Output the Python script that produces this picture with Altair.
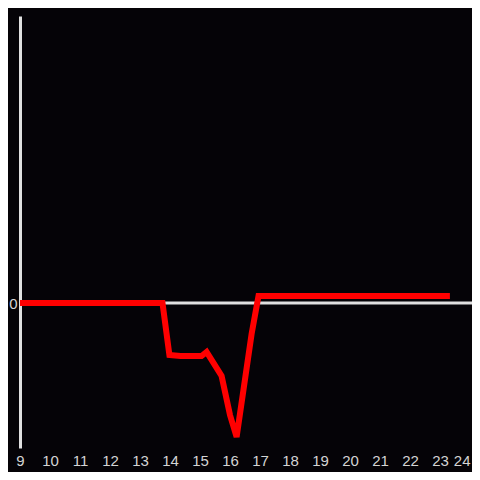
import altair as alt
import pandas as pd

hours = [9.0, 13.75, 13.98, 14.35, 15.05, 15.22, 15.72, 16.0, 16.22, 16.72, 16.95, 23.33]
values = [0, 0, -52, -53, -53, -49, -73, -112, -134, -31, 7, 7]
x_ticks = list(range(9, 25))

df = pd.DataFrame({"hour": hours, "value": values})

FONT = "Liberation Sans"
LBL = "#d4d4d4"

x = alt.X("hour:Q", scale=alt.Scale(domain=[9, 24.0667], nice=False, zero=False),
          axis=alt.Axis(values=x_ticks, title=None, domain=False, ticks=False, grid=False,
                        labelFlush=False, labelColor=LBL, labelFontSize=15, labelFont=FONT,
                        labelAlign=alt.ExprRef("datum.value >= 24 ? 'right' : 'center'"),
                        labelBaseline="middle", labelPadding=12, format="d", labelOverlap=False))
y = alt.Y("value:Q", scale=alt.Scale(domain=[-145, 287], nice=False, zero=False),
          axis=alt.Axis(values=[0], title=None, domain=True, domainColor="#e0e0e0",
                        domainWidth=3, ticks=False, grid=False, labelColor=LBL,
                        labelFontSize=15, labelFont=FONT, labelPadding=3))

zero = alt.Chart(pd.DataFrame({"z": [0]})).mark_rule(color="#e0e0e0", strokeWidth=3).encode(
    y=alt.Y("z:Q", scale=alt.Scale(domain=[-145, 287], nice=False, zero=False))
)
line = alt.Chart(df).mark_line(color="#ff0000", strokeWidth=6, clip=True).encode(x=x, y=y)

chart = alt.layer(zero, line).properties(
    width=452, height=432, background="#050307",
    padding={"left": 12, "top": 8, "right": 0, "bottom": 24},
    autosize=alt.AutoSizeParams(type="none"),
).configure_view(stroke=None)

chart.save("out.html", embed_options={"renderer": "svg", "actions": False})
